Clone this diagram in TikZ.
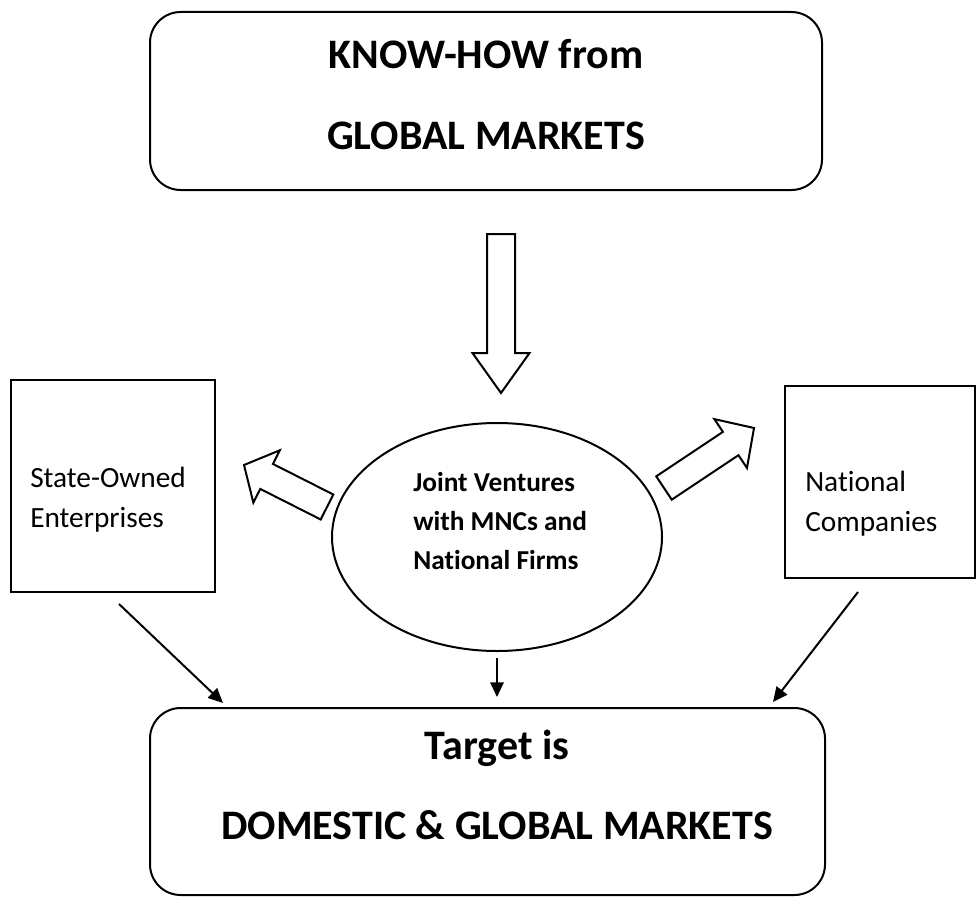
\documentclass[tikz,border=0pt]{standalone}
\usepackage{fontspec}
\setmainfont{Carlito}[Ligatures=NoCommon]
\usetikzlibrary{arrows.meta,calc,fit,shapes.geometric}

% hollow block arrow from #1 (tail) to #2 (tip):
% #3 half shaft width, #4 half head width, #5 head length
\newcommand{\blockarrow}[5]{%
  \path ($(#2)!#5!(#1)$) coordinate (ba-base);
  \draw[blockline]
    ($(#1)!#3!90:(#2)$) -- ($(ba-base)!#3!90:(#2)$) -- ($(ba-base)!#4!90:(#2)$)
    -- (#2)
    -- ($(ba-base)!#4!-90:(#2)$) -- ($(ba-base)!#3!-90:(#2)$) -- ($(#1)!#3!-90:(#2)$)
    -- cycle;}

\begin{document}
\begin{tikzpicture}[x=0.75pt, y=-0.75pt,
  frame/.style={draw=black, line width=1.5pt, inner sep=0pt},
  roundbox/.style={frame, rounded corners=23pt},
  heading/.style={font=\fontsize{31.5}{36}\selectfont\bfseries, inner sep=0pt, anchor=base},
  sidetext/.style={font=\fontsize{22}{26}\selectfont, inner sep=0pt, anchor=base west},
  jvtext/.style={font=\fontsize{20.5}{24}\selectfont\bfseries, inner sep=0pt, anchor=base west},
  thinarrow/.style={draw=black, line width=1.5pt, -{Triangle[length=11pt,width=10pt]}},
  blockline/.style={draw=black, line width=1.5pt, line join=miter, fill=white},
]
\useasboundingbox (0,0) rectangle (980,906);

% boxes
\node[roundbox, fit={(150,12) (822,190)}] (know) {};
\node[frame, fit={(11,380) (215,592)}] (soe) {};
\node[frame, fit={(785,386) (975,578)}] (nc) {};
\node[frame, ellipse, minimum width=247.5pt, minimum height=171pt] (jv) at (497,537) {};
\node[roundbox, fit={(150,708) (825,895)}] (goal) {};

% texts
\node[heading] (know-1) at (486,69) {KNOW-HOW from};
\node[heading] (know-2) at (486,149) {GLOBAL MARKETS};
\node[sidetext] (soe-1) at (30,487) {State-Owned};
\node[sidetext] (soe-2) at (30,527) {Enterprises};
\node[sidetext] (nc-1) at (805,491) {National};
\node[sidetext] (nc-2) at (805,531) {Companies};
\node[jvtext] (jv-1) at (413,491) {Joint Ventures};
\node[jvtext] (jv-2) at (413,530) {with MNCs and};
\node[jvtext] (jv-3) at (413,569) {National Firms};
\node[heading] (goal-1) at (497,759) {Target is};
\node[heading] (goal-2) at (497,839) {DOMESTIC \& GLOBAL MARKETS};

% hollow arrows
\coordinate (dn-tail) at ($(know.south)+(15,43)$);
\coordinate (dn-tip)  at ($(jv.north)+(4,-29)$);
\blockarrow{dn-tail}{dn-tip}{10.5pt}{21.4pt}{30pt}

\coordinate (lf-tail) at ($(jv.west)+(-4,-30)$);
\coordinate (lf-tip)  at ($(soe.east)+(28,-21)$);
\blockarrow{lf-tail}{lf-tip}{10.5pt}{22pt}{19pt}

\coordinate (rt-tail) at ($(jv.east)+(1,-49)$);
\coordinate (rt-tip)  at ($(nc.west)+(-30,-54)$);
\blockarrow{rt-tail}{rt-tip}{10.5pt}{22pt}{21pt}

% plain arrows into the target box
\coordinate (soe-out) at (119,604);
\coordinate (soe-in)  at (223,703);
\coordinate (jv-out)  at ($(jv.south)+(0,6)$);
\coordinate (jv-in)   at (497,697);
\coordinate (nc-out)  at (858,592);
\coordinate (nc-in)   at (773,702);
\draw[thinarrow] (soe-out) -- (soe-in);
\draw[thinarrow] (jv-out) -- (jv-in);
\draw[thinarrow] (nc-out) -- (nc-in);
\end{tikzpicture}
\end{document}
